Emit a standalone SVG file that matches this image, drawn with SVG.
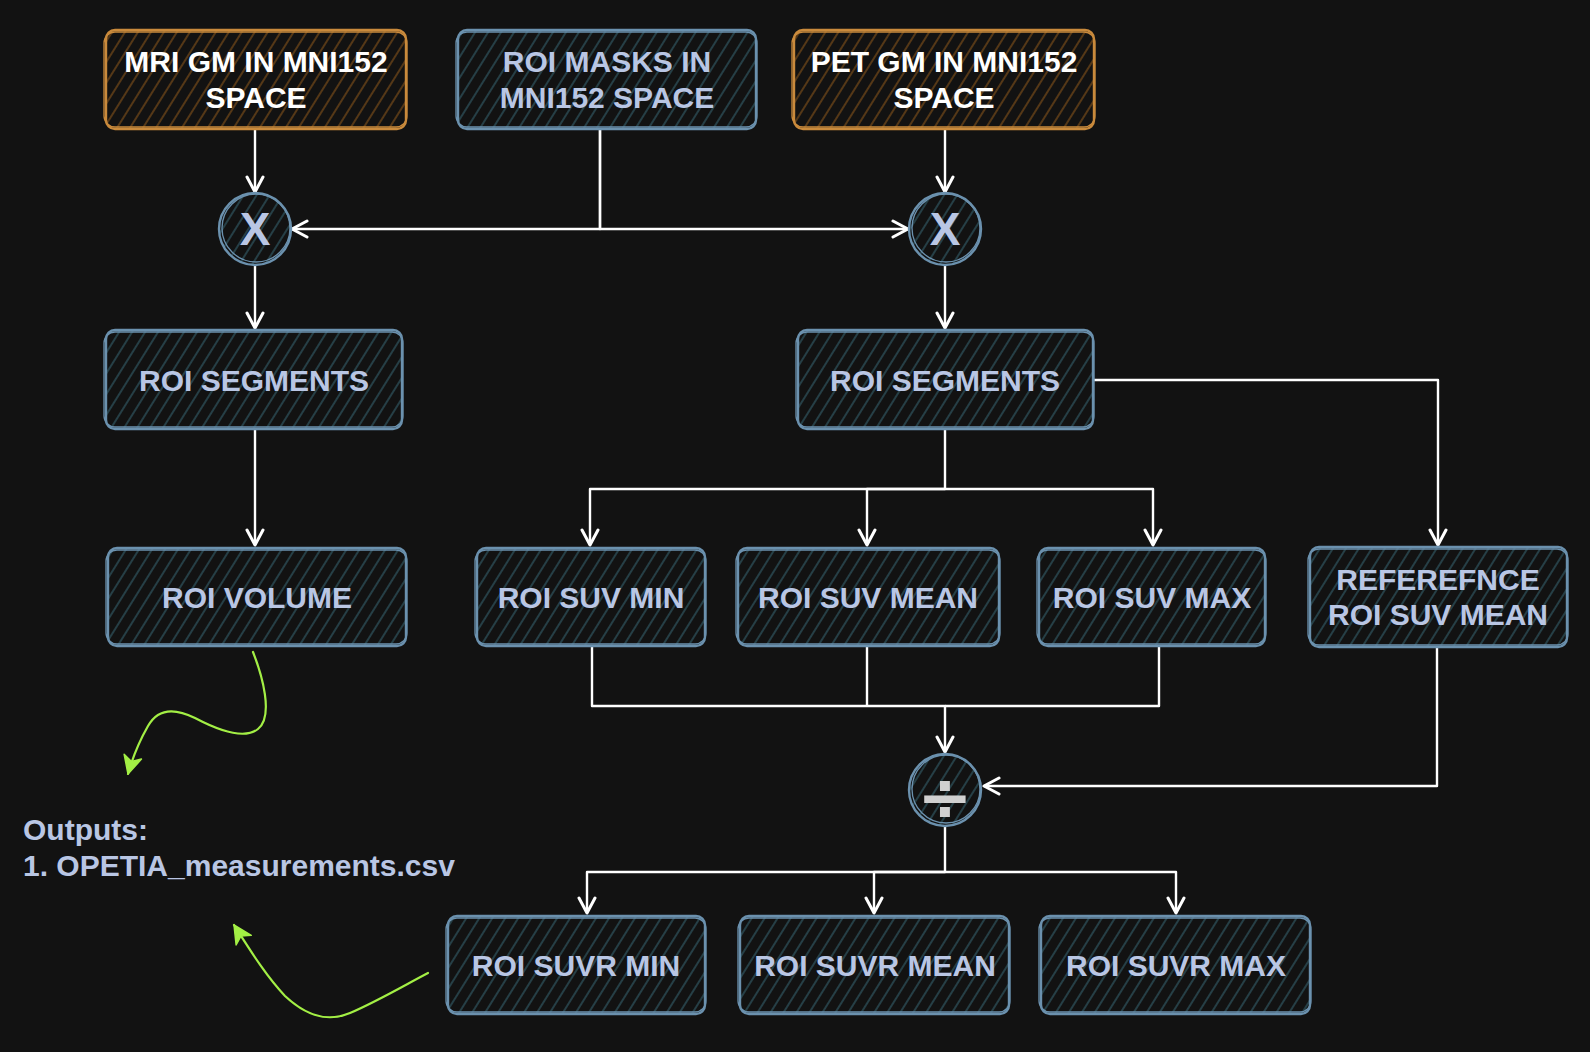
<svg xmlns="http://www.w3.org/2000/svg" width="1590" height="1052" viewBox="0 0 1590 1052">
<defs>
<pattern id="hb" patternUnits="userSpaceOnUse" width="11" height="11" patternTransform="rotate(32)">
<line x1="2" y1="0" x2="2" y2="11" stroke="#2b4d56" stroke-width="1.5"/>
</pattern>
<pattern id="ho" patternUnits="userSpaceOnUse" width="11" height="11" patternTransform="rotate(32)">
<line x1="2" y1="0" x2="2" y2="11" stroke="#6a4418" stroke-width="1.5"/>
</pattern>
<marker id="ah" markerUnits="userSpaceOnUse" markerWidth="22" markerHeight="20" viewBox="0 0 22 20" refX="18" refY="10" orient="auto">
<path d="M3,2 L18,10 L3,18" fill="none" stroke="#ffffff" stroke-width="3" stroke-linejoin="round" stroke-linecap="round"/>
</marker>
<marker id="ag" markerUnits="userSpaceOnUse" markerWidth="24" markerHeight="22" viewBox="0 0 24 22" refX="20" refY="11" orient="auto">
<path d="M2,2 L20,11 L2,20 L7,11 Z" fill="#a3ef45" stroke="#a3ef45" stroke-width="1.5" stroke-linejoin="round"/>
</marker>
</defs>
<style>
.nb{fill:url(#hb);stroke:#6b91ae;stroke-width:2.4}
.no{fill:url(#ho);stroke:#c98a3c;stroke-width:2.4}
.sb{fill:none;stroke:#6b91ae;stroke-width:1.3}
.so{fill:none;stroke:#c98a3c;stroke-width:1.3}
.t{font-family:"Liberation Sans",Arial,Helvetica,sans-serif;font-weight:bold;font-size:30px;text-anchor:middle}
.tb{fill:#b9c6e4}
.tw{fill:#ffffff}
.c{fill:none;stroke:#ffffff;stroke-width:2.4;stroke-linejoin:round}
.g{fill:none;stroke:#a3ef45;stroke-width:2.2;stroke-linecap:round}
</style>
<rect x="0" y="0" width="1590" height="1052" fill="#121212"/>

<g id="connectors">
<path class="c" d="M255,129 L255,192" marker-end="url(#ah)"/>
<path class="c" d="M600,129 L600,229 L292,229" marker-end="url(#ah)"/>
<path class="c" d="M600,129 L600,229 L908,229" marker-end="url(#ah)"/>
<path class="c" d="M945,129 L945,192" marker-end="url(#ah)"/>
<path class="c" d="M255,266 L255,328" marker-end="url(#ah)"/>
<path class="c" d="M945,266 L945,328" marker-end="url(#ah)"/>
<path class="c" d="M255,429 L255,545" marker-end="url(#ah)"/>
<path class="c" d="M945,429 L945,489 L590,489 L590,545" marker-end="url(#ah)"/>
<path class="c" d="M945,489 L867,489 L867,545" marker-end="url(#ah)"/>
<path class="c" d="M945,489 L1153,489 L1153,545" marker-end="url(#ah)"/>
<path class="c" d="M1093,380 L1438,380 L1438,545" marker-end="url(#ah)"/>
<path class="c" d="M592,646 L592,706 L945,706 L945,752" marker-end="url(#ah)"/>
<path class="c" d="M867,646 L867,706"/>
<path class="c" d="M1159,646 L1159,706 L945,706"/>
<path class="c" d="M1437,647 L1437,786 L984,786" marker-end="url(#ah)"/>
<path class="c" d="M945,826 L945,872 L587,872 L587,913" marker-end="url(#ah)"/>
<path class="c" d="M945,872 L874,872 L874,913" marker-end="url(#ah)"/>
<path class="c" d="M945,872 L1176,872 L1176,913" marker-end="url(#ah)"/>
<path class="g" d="M253,652 C262,675 274,716 258,729 C243,741 214,728 195,718 C175,708 158,708 148,726 C140,740 133,756 128,774" marker-end="url(#ag)"/>
<path class="g" d="M428,973 C405,985 376,1002 350,1013 C322,1025 300,1010 285,996 C266,976 250,950 234,925" marker-end="url(#ag)"/>
</g>

<g id="mri-gm">
<rect class="no" x="106" y="30" width="300" height="99" rx="9"/>
<rect class="so" x="104" y="32" width="303" height="95" rx="11"/>
<text class="t tw" x="256" y="72">MRI GM IN MNI152</text>
<text class="t tw" x="256" y="108">SPACE</text>
</g>
<g id="roi-masks">
<rect class="nb" x="458" y="30" width="298" height="99" rx="9"/>
<rect class="sb" x="456" y="32" width="301" height="95" rx="11"/>
<text class="t tb" x="607" y="72">ROI MASKS IN</text>
<text class="t tb" x="607" y="108">MNI152 SPACE</text>
</g>
<g id="pet-gm">
<rect class="no" x="794" y="30" width="300" height="99" rx="9"/>
<rect class="so" x="792" y="32" width="303" height="95" rx="11"/>
<text class="t tw" x="944" y="72">PET GM IN MNI152</text>
<text class="t tw" x="944" y="108">SPACE</text>
</g>
<g id="mult-left">
<circle class="nb" cx="255" cy="229" r="36"/>
<circle class="sb" cx="256" cy="228" r="34"/>
<text class="t tb" x="255" y="245" style="font-size:46px">X</text>
</g>
<g id="mult-right">
<circle class="nb" cx="945" cy="229" r="36"/>
<circle class="sb" cx="946" cy="228" r="34"/>
<text class="t tb" x="945" y="245" style="font-size:46px">X</text>
</g>
<g id="roi-seg-left">
<rect class="nb" x="106" y="330" width="296" height="99" rx="9"/>
<rect class="sb" x="104" y="332" width="299" height="95" rx="11"/>
<text class="t tb" x="254" y="391">ROI SEGMENTS</text>
</g>
<g id="roi-seg-right">
<rect class="nb" x="798" y="330" width="295" height="99" rx="9"/>
<rect class="sb" x="796" y="332" width="298" height="95" rx="11"/>
<text class="t tb" x="945" y="391">ROI SEGMENTS</text>
</g>
<g id="roi-volume">
<rect class="nb" x="108" y="548" width="298" height="98" rx="9"/>
<rect class="sb" x="106" y="550" width="301" height="94" rx="11"/>
<text class="t tb" x="257" y="608">ROI VOLUME</text>
</g>
<g id="roi-suv-min">
<rect class="nb" x="477" y="548" width="228" height="98" rx="9"/>
<rect class="sb" x="475" y="550" width="231" height="94" rx="11"/>
<text class="t tb" x="591" y="608">ROI SUV MIN</text>
</g>
<g id="roi-suv-mean">
<rect class="nb" x="738" y="548" width="261" height="98" rx="9"/>
<rect class="sb" x="736" y="550" width="264" height="94" rx="11"/>
<text class="t tb" x="868" y="608">ROI SUV MEAN</text>
</g>
<g id="roi-suv-max">
<rect class="nb" x="1039" y="548" width="226" height="98" rx="9"/>
<rect class="sb" x="1037" y="550" width="229" height="94" rx="11"/>
<text class="t tb" x="1152" y="608">ROI SUV MAX</text>
</g>
<g id="ref-roi-suv-mean">
<rect class="nb" x="1310" y="547" width="257" height="100" rx="9"/>
<rect class="sb" x="1308" y="549" width="260" height="96" rx="11"/>
<text class="t tb" x="1438" y="590">REFEREFNCE</text>
<text class="t tb" x="1438" y="625">ROI SUV MEAN</text>
</g>
<g id="divide">
<circle class="nb" cx="945" cy="790" r="36"/>
<circle class="sb" cx="946" cy="789" r="34"/>
<text x="945" y="820" text-anchor="middle" style="font-family:'DejaVu Sans',sans-serif;font-weight:bold;font-size:66px;fill:#d0d0d0">÷</text>
</g>
<g id="roi-suvr-min">
<rect class="nb" x="448" y="916" width="257" height="98" rx="9"/>
<rect class="sb" x="446" y="918" width="260" height="94" rx="11"/>
<text class="t tb" x="576" y="976">ROI SUVR MIN</text>
</g>
<g id="roi-suvr-mean">
<rect class="nb" x="740" y="916" width="269" height="98" rx="9"/>
<rect class="sb" x="738" y="918" width="272" height="94" rx="11"/>
<text class="t tb" x="875" y="976">ROI SUVR MEAN</text>
</g>
<g id="roi-suvr-max">
<rect class="nb" x="1041" y="916" width="269" height="98" rx="9"/>
<rect class="sb" x="1039" y="918" width="272" height="94" rx="11"/>
<text class="t tb" x="1176" y="976">ROI SUVR MAX</text>
</g>
<g id="outputs">
<text class="t tb" x="23" y="840" style="text-anchor:start">Outputs:</text>
<text class="t tb" x="23" y="876" style="text-anchor:start">1. OPETIA_measurements.csv</text>
</g>
</svg>
